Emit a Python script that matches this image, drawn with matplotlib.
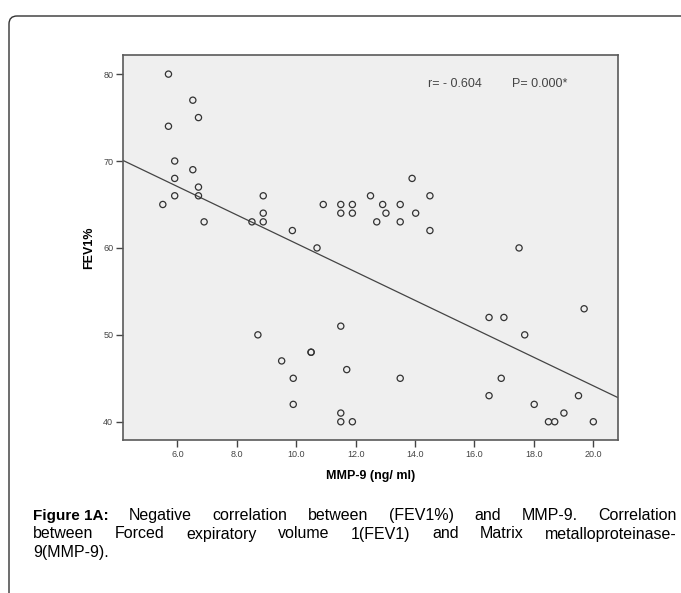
import numpy as np
import matplotlib
matplotlib.use("Agg")
import matplotlib.pyplot as plt
from matplotlib.patches import FancyBboxPatch

# MMP-9 (ng/ml) vs FEV1%
mmp9 = [5.70, 6.52, 6.71, 5.70, 5.91, 6.52, 5.91, 6.71, 5.91, 6.71,
        5.51, 6.90, 8.51, 8.89, 8.89, 8.89, 9.87, 10.70, 10.91, 11.50,
        11.50, 11.89, 11.89, 12.50, 12.91, 13.02, 12.71, 13.50, 13.50, 13.90,
        14.02, 14.50, 14.50, 17.50, 8.71, 9.51, 10.50, 10.50, 9.90, 9.90,
        11.50, 11.70, 11.50, 11.50, 11.89, 13.50, 16.49, 16.99, 17.69, 19.69,
        16.90, 16.49, 18.01, 19.50, 19.01, 18.49, 18.70, 20.00]
fev1 = [80, 77, 75, 74, 70, 69, 68, 67, 66, 66,
        65, 63, 63, 66, 64, 63, 62, 60, 65, 65,
        64, 65, 64, 66, 65, 64, 63, 65, 63, 68,
        64, 66, 62, 60, 50, 47, 48, 48, 45, 42,
        51, 46, 41, 40, 40, 45, 52, 52, 50, 53,
        45, 43, 42, 43, 41, 40, 40, 40]

x_ticks = [6, 8, 10, 12, 14, 16, 18, 20]
y_ticks = [40, 50, 60, 70, 80]
r_text = "r= - 0.604"
p_text = "P= 0.000*"
caption_lines = [
    ["Figure\u00a01A:", "Negative", "correlation", "between", "(FEV1%)", "and", "MMP-9.", "Correlation"],
    ["between", "Forced", "expiratory", "volume", "1(FEV1)", "and", "Matrix", "metalloproteinase-"],
    ["9(MMP-9)."],
]
bold_words = {"Figure\u00a01A:"}

plt.rcParams['font.family'] = ['Liberation Sans', 'DejaVu Sans']

W, H = 681, 593
fig = plt.figure(figsize=(W / 100, H / 100), dpi=100)

# outer frame with rounded top-left corner, open on right/bottom
frame = FancyBboxPatch((0.09, -0.5), 7.5, 5.93 - 0.16 + 0.5,
                       boxstyle="round,pad=0,rounding_size=0.08",
                       transform=fig.dpi_scale_trans, fill=False,
                       edgecolor="#333333", linewidth=1.0)
fig.patches.append(frame)

ax = fig.add_axes([123 / W, 1 - 440 / H, (618 - 123) / W, (440 - 55) / H])
ax.set_facecolor("#efefef")
for s in ax.spines.values():
    s.set_color("#5a5a5a")
    s.set_linewidth(1.2)

x = np.array(mmp9)
y = np.array(fev1)
ax.scatter(x, y, s=20, facecolors="none", edgecolors="#333333", linewidths=0.9, zorder=3)

xlim = (4.17, 20.83)
slope, intercept = np.polyfit(x, y, 1)
xs = np.array(xlim)
ax.plot(xs, intercept + slope * xs, color="#444444", linewidth=0.9, zorder=2)

ax.set_xlim(*xlim)
ax.set_ylim(37.9, 82.2)
ax.set_xticks(x_ticks)
ax.set_xticklabels(["%.1f" % v for v in x_ticks])
ax.set_yticks(y_ticks)
ax.tick_params(length=5, width=1, color="#444444", labelsize=6.5, labelcolor="#444444", pad=2)

ax.set_xlabel("MMP-9 (ng/ ml)", fontsize=9, fontweight="bold", labelpad=8)
ax.set_ylabel("FEV1%", fontsize=9, fontweight="bold", labelpad=6)

ax.text(0.616, 0.925, r_text, transform=ax.transAxes, fontsize=9,
        color="#444444", va="center", ha="left")
ax.text(0.786, 0.925, p_text, transform=ax.transAxes, fontsize=9,
        color="#444444", va="center", ha="left")

# justified caption
renderer = fig.canvas.get_renderer()
x0, x1 = 33, 677
baselines = [520, 538.5, 557]
for i, words in enumerate(caption_lines):
    yy = 1 - baselines[i] / H
    arts = []
    for w in words:
        bold = w in bold_words
        t = fig.text(x0 / W, yy, w, fontsize=11 if bold else 11.5, va="baseline", ha="left",
                     fontweight="bold" if bold else "normal")
        arts.append(t)
    if i == len(caption_lines) - 1:
        continue
    widths = [t.get_window_extent(renderer).width for t in arts]
    gap = (x1 - x0 - sum(widths)) / (len(words) - 1)
    pos = x0
    for t, wd in zip(arts, widths):
        t.set_x(pos / W)
        pos += wd + gap

fig.savefig("out.png", dpi=100)
